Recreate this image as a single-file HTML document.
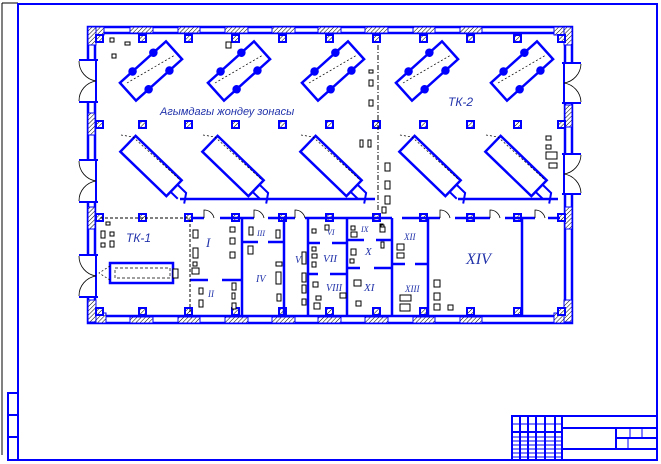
<!DOCTYPE html>
<html><head><meta charset="utf-8"><style>
html,body{margin:0;padding:0;background:#fff;width:661px;height:464px;overflow:hidden}
text{font-family:"Liberation Serif",serif;font-style:italic;fill:#2233aa}
</style></head><body>
<svg width="661" height="464" viewBox="0 0 661 464" xmlns="http://www.w3.org/2000/svg">
<defs>
<pattern id="h" width="3" height="3" patternUnits="userSpaceOnUse" patternTransform="rotate(45)">
<rect width="3" height="3" fill="#fff"/><line x1="0" y1="0" x2="0" y2="3" stroke="#000" stroke-width="1"/></pattern>
</defs>
<!-- frame -->
<line x1="2" y1="3" x2="2" y2="455" stroke="#000" stroke-width="1"/>
<line x1="2" y1="3" x2="18" y2="3" stroke="#000" stroke-width="1"/>
<rect x="18" y="4" width="639" height="456" fill="none" stroke="#0000ff" stroke-width="2"/>
<rect x="8" y="393" width="10" height="67" fill="none" stroke="#0000ff" stroke-width="2"/>
<line x1="8" y1="415" x2="18" y2="415" stroke="#0000ff" stroke-width="2"/>
<line x1="8" y1="437" x2="18" y2="437" stroke="#0000ff" stroke-width="2"/>
<!-- title block -->
<g stroke="#0000ff" stroke-width="2" fill="none">
<rect x="512" y="416" width="145" height="44"/>
<line x1="562" y1="416" x2="562" y2="460"/>
<line x1="562" y1="428" x2="657" y2="428"/>
<line x1="562" y1="449" x2="657" y2="449"/>
<line x1="616" y1="428" x2="616" y2="449"/>
<line x1="616" y1="438" x2="657" y2="438"/>
<line x1="512" y1="432" x2="562" y2="432"/>
<line x1="520" y1="416" x2="520" y2="460"/><line x1="528" y1="416" x2="528" y2="460"/>
<line x1="536" y1="416" x2="536" y2="460"/><line x1="545" y1="416" x2="545" y2="460"/>
<line x1="555" y1="416" x2="555" y2="460"/>
</g>
<g stroke="#0000ff" stroke-width="1">
<line x1="512" y1="424" x2="562" y2="424"/><line x1="512" y1="437" x2="562" y2="437"/>
<line x1="512" y1="441" x2="562" y2="441"/><line x1="512" y1="445" x2="562" y2="445"/>
<line x1="512" y1="449" x2="562" y2="449"/><line x1="512" y1="453" x2="562" y2="453"/>
<line x1="512" y1="457" x2="562" y2="457"/>
<line x1="628" y1="438" x2="628" y2="449"/><line x1="630" y1="428" x2="630" y2="438"/><line x1="642" y1="428" x2="642" y2="438"/>
</g>
<!-- outer walls -->
<g fill="none" stroke="#0000ff" stroke-width="2.5">
<rect x="88" y="27" width="484" height="296"/>
<rect x="95" y="33" width="470" height="283"/>
</g>
<!-- hatched wall blocks -->
<g fill="url(#h)" stroke="#0000ff" stroke-width="1">
<rect x="88" y="27" width="16" height="8"/><rect x="88" y="27" width="8" height="18"/>
<rect x="130" y="27" width="23" height="6"/><rect x="178" y="27" width="22" height="6"/>
<rect x="225" y="27" width="23" height="6"/><rect x="272" y="27" width="23" height="6"/>
<rect x="318" y="27" width="23" height="6"/><rect x="365" y="27" width="23" height="6"/>
<rect x="413" y="27" width="22" height="6"/><rect x="460" y="27" width="22" height="6"/>
<rect x="554" y="27" width="18" height="8"/><rect x="564" y="27" width="8" height="18"/>
<rect x="88" y="313" width="18" height="10"/><rect x="88" y="300" width="8" height="22"/>
<rect x="130" y="317" width="23" height="6"/><rect x="178" y="317" width="22" height="6"/>
<rect x="225" y="317" width="23" height="6"/><rect x="272" y="317" width="23" height="6"/>
<rect x="318" y="317" width="23" height="6"/><rect x="365" y="317" width="23" height="6"/>
<rect x="413" y="317" width="22" height="6"/><rect x="460" y="317" width="22" height="6"/>
<rect x="554" y="313" width="18" height="10"/><rect x="564" y="300" width="8" height="22"/>
<rect x="88" y="113" width="7" height="22"/><rect x="88" y="207" width="7" height="22"/>
<rect x="565" y="105" width="7" height="22"/><rect x="565" y="207" width="7" height="22"/>
</g>
<!-- door openings in outer walls -->
<g fill="#fff" stroke="none">
<rect x="86" y="60" width="12" height="42"/><rect x="86" y="160" width="12" height="42"/><rect x="86" y="255" width="12" height="42"/>
<rect x="562" y="63" width="12" height="40"/><rect x="562" y="154" width="12" height="40"/>
</g>
<g fill="none" stroke="#0000ff" stroke-width="2">
<path d="M98 60H79M98 102H79M98 160H79M98 202H79M98 255H79M98 297H79"/>
<path d="M562 63H581M562 103H581M562 154H581M562 194H581"/>
<line x1="96" y1="60" x2="96" y2="102"/><line x1="96" y1="160" x2="96" y2="202"/><line x1="96" y1="255" x2="96" y2="297"/>
<line x1="564" y1="63" x2="564" y2="103"/><line x1="564" y1="154" x2="564" y2="194"/>
</g>
<g fill="none" stroke="#000" stroke-width="0.8">
<path d="M79 61A20 20 0 0 0 96 81A20 20 0 0 0 79 101"/>
<path d="M79 161A20 20 0 0 0 96 181A20 20 0 0 0 79 201"/>
<path d="M79 256A20 20 0 0 0 96 276A20 20 0 0 0 79 296"/>
<path d="M581 64A20 20 0 0 1 564 83A20 20 0 0 1 581 102"/>
<path d="M581 155A20 20 0 0 1 564 174A20 20 0 0 1 581 193"/>
</g>
<!-- columns -->
<g fill="url(#h)" stroke="#0000ff" stroke-width="2">
<rect x="96" y="35" width="7" height="7"/><rect x="139" y="35" width="7" height="7"/><rect x="185" y="35" width="7" height="7"/><rect x="232" y="35" width="7" height="7"/><rect x="279" y="35" width="7" height="7"/><rect x="326" y="35" width="7" height="7"/><rect x="373" y="35" width="7" height="7"/><rect x="420" y="35" width="7" height="7"/><rect x="467" y="35" width="7" height="7"/><rect x="514" y="35" width="7" height="7"/><rect x="558" y="35" width="7" height="7"/>
<rect x="96" y="121" width="7" height="7"/><rect x="139" y="121" width="7" height="7"/><rect x="185" y="121" width="7" height="7"/><rect x="232" y="121" width="7" height="7"/><rect x="279" y="121" width="7" height="7"/><rect x="326" y="121" width="7" height="7"/><rect x="373" y="121" width="7" height="7"/><rect x="420" y="121" width="7" height="7"/><rect x="467" y="121" width="7" height="7"/><rect x="514" y="121" width="7" height="7"/><rect x="558" y="121" width="7" height="7"/>
<rect x="96" y="214" width="7" height="7"/><rect x="139" y="214" width="7" height="7"/><rect x="185" y="214" width="7" height="7"/><rect x="232" y="214" width="7" height="7"/><rect x="279" y="214" width="7" height="7"/><rect x="326" y="214" width="7" height="7"/><rect x="373" y="214" width="7" height="7"/><rect x="420" y="214" width="7" height="7"/><rect x="467" y="214" width="7" height="7"/><rect x="514" y="214" width="7" height="7"/><rect x="558" y="214" width="7" height="7"/>
<rect x="96" y="308" width="7" height="7"/><rect x="139" y="308" width="7" height="7"/><rect x="185" y="308" width="7" height="7"/><rect x="232" y="308" width="7" height="7"/><rect x="279" y="308" width="7" height="7"/><rect x="326" y="308" width="7" height="7"/><rect x="373" y="308" width="7" height="7"/><rect x="420" y="308" width="7" height="7"/><rect x="467" y="308" width="7" height="7"/><rect x="514" y="308" width="7" height="7"/><rect x="558" y="308" width="7" height="7"/>
</g>
<!-- inner partition wall -->
<g stroke="#0000ff" stroke-width="2.5" fill="none">
<path d="M192 218H204M220 218H254M268 218H295M305 218H392M402 218H440M455 218H490M505 218H535M548 218H560"/>
<line x1="242" y1="218" x2="242" y2="315"/><line x1="284" y1="218" x2="284" y2="315"/>
<line x1="308" y1="218" x2="308" y2="315"/><line x1="347" y1="218" x2="347" y2="315"/>
<line x1="392" y1="218" x2="392" y2="315"/><line x1="428" y1="218" x2="428" y2="315"/>
<line x1="522" y1="218" x2="522" y2="315"/>
<path d="M190 280H208M222 280H242"/><path d="M242 242H258M268 242H284"/>
<path d="M308 243H320M332 243H347M308 274H318M330 274H347"/>
<path d="M347 240H364M376 240H392M347 268H360M374 268H392"/>
<path d="M392 264H405M415 264H428"/>
<path d="M180 199H375M458 199H558"/>
</g>
<g fill="none" stroke="#000" stroke-width="0.8">
<path d="M204 218V210A10 10 0 0 1 214 218"/><path d="M254 218V210A10 10 0 0 1 264 218"/>
<path d="M295 218V210A10 10 0 0 1 305 218"/><path d="M440 218V210A10 10 0 0 1 450 218"/>
<path d="M490 218V210A10 10 0 0 1 500 218"/><path d="M535 218V210A10 10 0 0 1 545 218"/>
</g>
<line x1="190" y1="219" x2="190" y2="315" stroke="#000" stroke-width="1" stroke-dasharray="3,2"/>
<line x1="100" y1="218" x2="190" y2="218" stroke="#000" stroke-width="1" stroke-dasharray="3,2"/>
<line x1="378" y1="45" x2="378" y2="212" stroke="#000" stroke-width="1" stroke-dasharray="5,2,1,2"/>
<!-- vehicles top row -->
<g fill="#fff" stroke="#0000ff" stroke-width="2.5">
<g transform="translate(151,71) rotate(-42)"><rect x="-31" y="-12" width="62" height="24"/><circle cx="-14" cy="-12" r="3" fill="#0000ff"/><circle cx="14" cy="-12" r="3" fill="#0000ff"/><circle cx="-14" cy="12" r="3" fill="#0000ff"/><circle cx="14" cy="12" r="3" fill="#0000ff"/></g>
<g transform="translate(239,71) rotate(-42)"><rect x="-31" y="-12" width="62" height="24"/><circle cx="-14" cy="-12" r="3" fill="#0000ff"/><circle cx="14" cy="-12" r="3" fill="#0000ff"/><circle cx="-14" cy="12" r="3" fill="#0000ff"/><circle cx="14" cy="12" r="3" fill="#0000ff"/></g>
<g transform="translate(333,71) rotate(-42)"><rect x="-31" y="-12" width="62" height="24"/><circle cx="-14" cy="-12" r="3" fill="#0000ff"/><circle cx="14" cy="-12" r="3" fill="#0000ff"/><circle cx="-14" cy="12" r="3" fill="#0000ff"/><circle cx="14" cy="12" r="3" fill="#0000ff"/></g>
<g transform="translate(427,71) rotate(-42)"><rect x="-31" y="-12" width="62" height="24"/><circle cx="-14" cy="-12" r="3" fill="#0000ff"/><circle cx="14" cy="-12" r="3" fill="#0000ff"/><circle cx="-14" cy="12" r="3" fill="#0000ff"/><circle cx="14" cy="12" r="3" fill="#0000ff"/></g>
<g transform="translate(522,71) rotate(-42)"><rect x="-31" y="-12" width="62" height="24"/><circle cx="-14" cy="-12" r="3" fill="#0000ff"/><circle cx="14" cy="-12" r="3" fill="#0000ff"/><circle cx="-14" cy="12" r="3" fill="#0000ff"/><circle cx="14" cy="12" r="3" fill="#0000ff"/></g>
</g>
<!-- vehicles bottom row -->
<g fill="#fff" stroke="#0000ff" stroke-width="2.5">
<g transform="translate(151,166) rotate(44)"><rect x="-32" y="-11" width="64" height="22"/><path d="M32 -5L44 -5L50 4M32 5L42 5" fill="none" stroke-width="2"/></g>
<g transform="translate(233,166) rotate(44)"><rect x="-32" y="-11" width="64" height="22"/><path d="M32 -5L44 -5L50 4M32 5L42 5" fill="none" stroke-width="2"/></g>
<g transform="translate(331,166) rotate(44)"><rect x="-32" y="-11" width="64" height="22"/><path d="M32 -5L44 -5L50 4M32 5L42 5" fill="none" stroke-width="2"/></g>
<g transform="translate(430,166) rotate(44)"><rect x="-32" y="-11" width="64" height="22"/><path d="M32 -5L44 -5L50 4M32 5L42 5" fill="none" stroke-width="2"/></g>
<g transform="translate(516,166) rotate(44)"><rect x="-32" y="-11" width="64" height="22"/><path d="M32 -5L44 -5L50 4M32 5L42 5" fill="none" stroke-width="2"/></g>
</g>
<g fill="none" stroke="#000" stroke-width="0.7" stroke-dasharray="2,2">
<line x1="127" y1="83" x2="175" y2="55"/><line x1="215" y1="83" x2="263" y2="55"/><line x1="309" y1="83" x2="357" y2="55"/><line x1="403" y1="83" x2="451" y2="55"/><line x1="498" y1="83" x2="546" y2="55"/>
<path d="M121 135L133 137L180 180"/><path d="M203 135L215 137L262 180"/><path d="M301 135L313 137L360 180"/><path d="M400 135L412 137L459 180"/><path d="M486 135L498 137L545 180"/>
</g>
<!-- TK-1 unit -->
<rect x="110" y="263" width="63" height="20" fill="none" stroke="#0000ff" stroke-width="2.5"/>
<rect x="115" y="268" width="55" height="10" fill="none" stroke="#000" stroke-width="0.7" stroke-dasharray="3,2"/>
<rect x="173" y="269" width="5" height="9" fill="#fff" stroke="#000" stroke-width="1"/>
<path d="M110 266L99 273L110 280" fill="none" stroke="#000" stroke-width="0.7" stroke-dasharray="2,2"/>
<!-- small equipment boxes -->
<g fill="#fff" stroke="#000" stroke-width="1">
<rect x="110" y="38" width="4" height="4"/><rect x="125" y="42" width="5" height="3"/><rect x="226" y="42" width="5" height="6"/><rect x="112" y="54" width="4" height="4"/>
<rect x="369" y="70" width="4" height="3"/><rect x="369" y="80" width="4" height="6"/><rect x="369" y="100" width="4" height="6"/>
<rect x="360" y="140" width="3" height="7"/><rect x="368" y="140" width="3" height="7"/>
<rect x="385" y="163" width="5" height="8"/><rect x="385" y="181" width="5" height="8"/><rect x="385" y="196" width="5" height="8"/>
<rect x="546" y="136" width="5" height="4"/><rect x="546" y="145" width="5" height="4"/><rect x="546" y="152" width="11" height="7"/><rect x="549" y="163" width="8" height="5"/>
<rect x="101" y="231" width="4" height="7"/><rect x="110" y="232" width="4" height="4"/><rect x="101" y="243" width="4" height="4"/><rect x="110" y="241" width="4" height="6"/><rect x="106" y="222" width="4" height="3"/>
<rect x="193" y="230" width="5" height="8"/><rect x="193" y="248" width="5" height="10"/><rect x="193" y="262" width="4" height="4"/><rect x="192" y="268" width="7" height="6"/>
<rect x="230" y="227" width="5" height="5"/><rect x="230" y="238" width="5" height="6"/><rect x="230" y="252" width="5" height="6"/>
<rect x="199" y="288" width="4" height="6"/><rect x="199" y="300" width="4" height="7"/><rect x="232" y="283" width="4" height="7"/><rect x="232" y="293" width="3" height="6"/><rect x="232" y="303" width="4" height="6"/>
<rect x="249" y="227" width="4" height="8"/><rect x="248" y="246" width="5" height="8"/><rect x="276" y="230" width="4" height="8"/><rect x="276" y="262" width="6" height="4"/><rect x="276" y="272" width="5" height="12"/>
<rect x="277" y="294" width="4" height="7"/><rect x="302" y="252" width="4" height="12"/><rect x="302" y="273" width="4" height="9"/><rect x="302" y="285" width="4" height="8"/><rect x="302" y="299" width="4" height="6"/>
<rect x="312" y="229" width="4" height="4"/><rect x="325" y="225" width="4" height="5"/><rect x="312" y="247" width="4" height="4"/><rect x="312" y="254" width="5" height="4"/><rect x="312" y="262" width="4" height="5"/>
<rect x="313" y="282" width="5" height="5"/><rect x="316" y="296" width="5" height="4"/><rect x="314" y="303" width="6" height="6"/><rect x="340" y="293" width="6" height="5"/>
<rect x="351" y="226" width="4" height="4"/><rect x="351" y="232" width="6" height="5"/><rect x="380" y="227" width="5" height="5"/><rect x="351" y="249" width="5" height="6"/><rect x="350" y="259" width="4" height="4"/>
<rect x="354" y="280" width="7" height="6"/><rect x="356" y="301" width="5" height="5"/><rect x="381" y="242" width="3" height="6"/><rect x="380" y="224" width="3" height="3"/>
<rect x="397" y="244" width="7" height="6"/><rect x="397" y="253" width="7" height="5"/><rect x="400" y="295" width="11" height="6"/><rect x="400" y="304" width="10" height="7"/>
<rect x="434" y="280" width="6" height="7"/><rect x="434" y="293" width="6" height="7"/><rect x="434" y="304" width="6" height="6"/><rect x="448" y="305" width="5" height="5"/>
<rect x="382" y="207" width="4" height="6"/><rect x="381" y="225" width="3" height="2"/>
</g>
<!-- labels -->
<text x="160" y="115" font-family="Liberation Sans" font-size="11" style="font-family:'Liberation Sans',sans-serif">Агымдагы жондеу зонасы</text>
<text x="448" y="106" font-size="12" style="font-family:'Liberation Sans',sans-serif">ТК-2</text>
<text x="126" y="242" font-size="12" style="font-family:'Liberation Sans',sans-serif">ТК-1</text>
<text x="206" y="247" font-size="13" fill="#000">I</text>
<text x="208" y="297" font-size="9">II</text>
<text x="257" y="236" font-size="8">III</text>
<text x="256" y="282" font-size="10">IV</text>
<text x="295" y="263" font-size="10">V</text>
<text x="327" y="235" font-size="8">VI</text>
<text x="323" y="262" font-size="11">VII</text>
<text x="326" y="291" font-size="10">VIII</text>
<text x="361" y="232" font-size="8">IX</text>
<text x="365" y="255" font-size="11">X</text>
<text x="364" y="291" font-size="11">XI</text>
<text x="404" y="240" font-size="9">XII</text>
<text x="405" y="292" font-size="9">XIII</text>
<text x="466" y="264" font-size="16">XIV</text>
</svg>
</body></html>
